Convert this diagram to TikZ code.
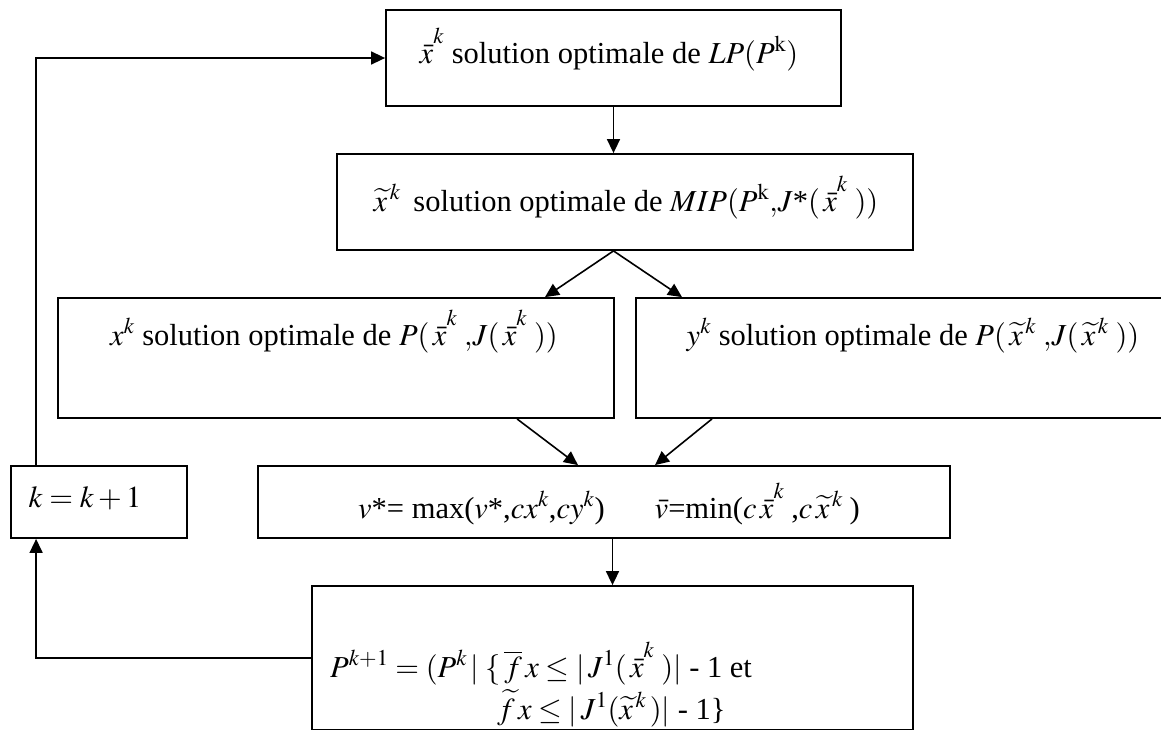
\documentclass[tikz,border=0pt]{standalone}
\usepackage{mathptmx}
\usepackage[no-math]{fontspec}
\setmainfont{Liberation Serif}
\usetikzlibrary{arrows.meta}
\newcommand{\xbk}{\bar{x}^{\raisebox{0.28em}{$\scriptstyle k$}}}
\newcommand{\xtk}{\widetilde{x}^{\,k}}
\tikzset{
  box/.style={draw, line width=1.8pt, inner sep=0pt, rectangle},
  txt/.style={inner sep=0pt, font=\fontsize{30.5pt}{36pt}\selectfont},
  arr/.style={line width=1.6pt, -{Triangle[length=14pt,width=13pt]}}
}
\begin{document}
\begin{tikzpicture}[x=1pt,y=-1pt]
\useasboundingbox (0,0) rectangle (1161,729);
\clip (0,0) rectangle (1161,729);
% boxes
\node[box, minimum width=455pt, minimum height=96pt] (b1) at (613.5,58) {};
\node[box, minimum width=576pt, minimum height=96pt] (b2) at (625,202) {};
\node[box, minimum width=556pt, minimum height=120pt] (b3) at (336,358) {};
\node[box, minimum width=554pt, minimum height=120pt] (b4) at (913,358) {};
\node[box, minimum width=692pt, minimum height=72pt] (b5) at (604,502) {};
\node[box, minimum width=176pt, minimum height=72pt] (k) at (99,502) {};
\node[box, minimum width=601pt, minimum height=144pt] (b6) at (612.5,658) {};
% texts
\node[txt, anchor=base] (t1) at (609,63) {$\xbk$ solution optimale de $LP(P^{\mathrm{k}})$};
\node[txt, anchor=base] (t2) at (626,211) {$\xtk$\, solution optimale de $MIP(P^{\mathrm{k}}{,}J\mbox{*}(\,\xbk\;))$};
\node[txt, anchor=base] (t3) at (334,345) {$x^{k}$ solution optimale de $P(\,\xbk\;{,}J(\,\xbk\;))$};
\node[txt, anchor=base] (t4) at (913,345) {$y^{k}$ solution optimale de $P(\,\xtk\;{,}J(\,\xtk\;))$};
\node[txt, anchor=base] (t5) at (609,518) {$v$*= max($v$*,$cx^{k}$,$cy^{k}$)\hspace{50pt}$\bar{v}$=min($c\,\xbk\;$,$c\,\xtk\;$)};
\node[txt, anchor=base] (tk) at (85,507) {$k = k + 1$};
\node[txt, anchor=base west] (t6a) at (330,677) {$P^{k+1} = (P^{k}\,|\;\{\,\overline{f}\,x \leq |\,J^{\mathrm{1}}(\,\xbk\;)|$ - 1 et};
\node[txt, anchor=base west] (t6b) at (497,719) {$\widetilde{f}\,x \leq |\,J^{\mathrm{1}}(\xtk\,)|$ - 1\}};
% connectors
\coordinate (kt) at ([xshift=26pt]k.north west);
\coordinate (kb) at ([xshift=26pt]k.south west);
\draw[arr] (b1.south) -- (b1.south |- b2.north);
\draw[arr] (b1.south |- b2.south) -- ([xshift=209pt]b3.north);
\draw[arr] (b1.south |- b2.south) -- ([xshift=-231pt]b4.north);
\draw[arr] ([xshift=181pt]b3.south) -- ([xshift=-26pt]b5.north);
\draw[arr] ([xshift=-201pt]b4.south) -- ([xshift=51pt]b5.north);
\draw[arr] (b5.south -| b6.north) -- (b6.north);
\draw[arr] (b6.west) -| (kb);
\draw[arr] (kt) |- (b1.west);
\end{tikzpicture}
\end{document}
